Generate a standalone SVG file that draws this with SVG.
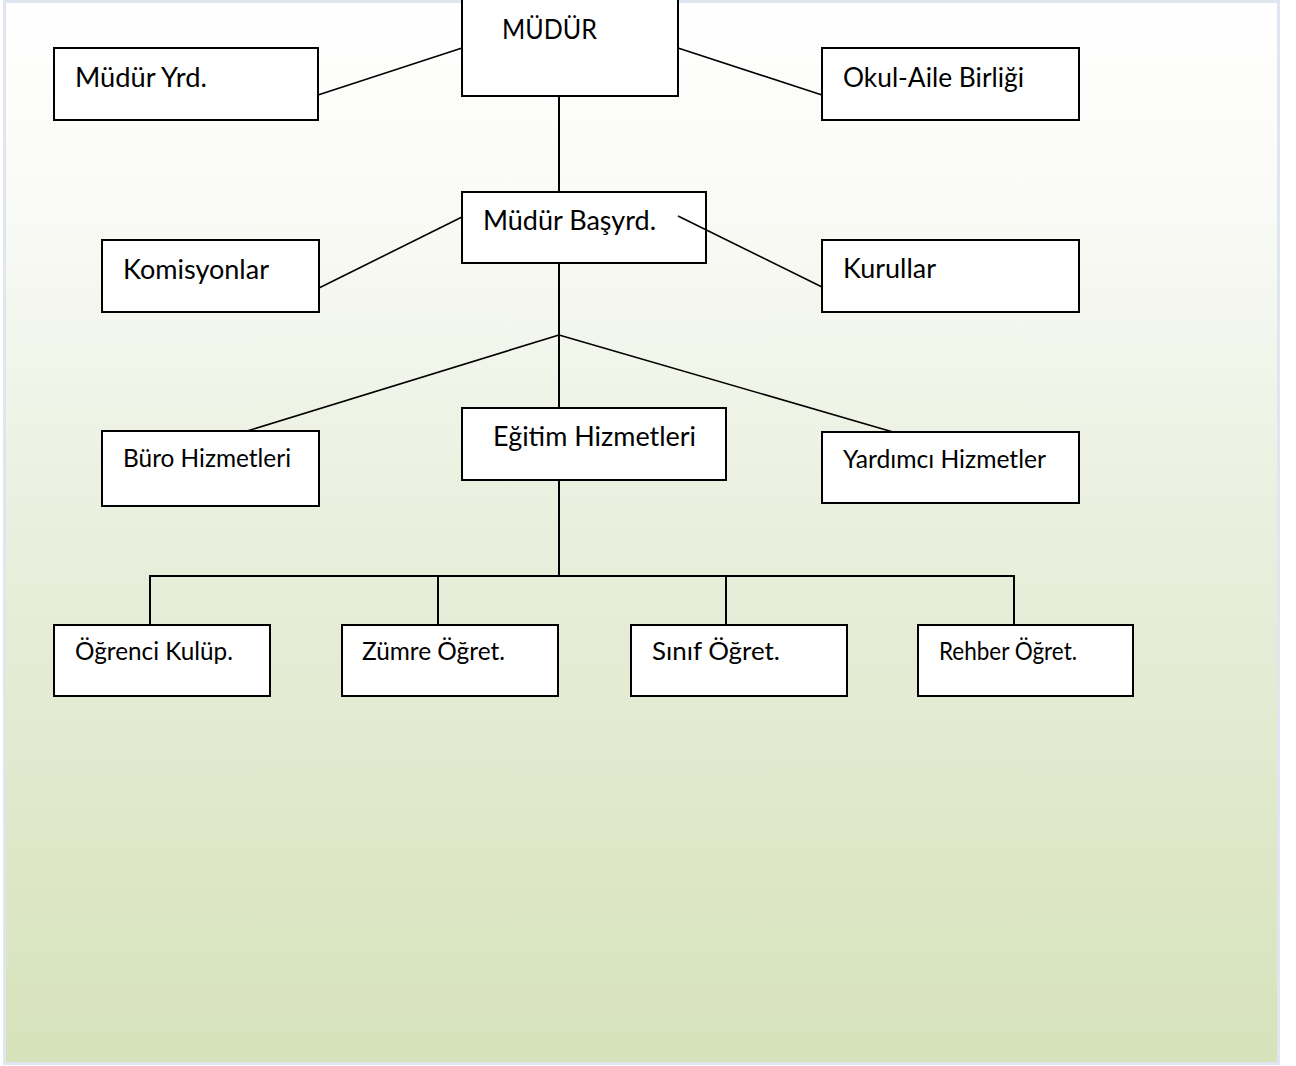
<svg xmlns="http://www.w3.org/2000/svg" width="1296" height="1066" viewBox="0 0 1296 1066">
<defs>
<linearGradient id="bg" x1="0" y1="0" x2="0" y2="1">
<stop offset="0" stop-color="#ffffff"/>
<stop offset="0.18" stop-color="#fafbf7"/>
<stop offset="0.5" stop-color="#e9efdd"/>
<stop offset="1" stop-color="#d6e2ba"/>
</linearGradient>
<style>
.box{fill:#ffffff;stroke:#000000;stroke-width:2}
.t{font-family:Lato,"Open Sans","Liberation Sans",sans-serif;font-size:27px;fill:#000000}
.s{font-size:25px}
.c{fill:none;stroke:#000000;stroke-width:2}
.d{fill:none;stroke:#000000;stroke-width:1.6}
</style>
</defs>
<rect x="0" y="0" width="1296" height="1066" fill="#ffffff"/>
<rect x="4.5" y="1.5" width="1274" height="1062" fill="url(#bg)" stroke="#dfe6ef" stroke-width="3"/>
<g id="mudur"><rect class="box" x="462" y="-4" width="216" height="100"/><text class="t" x="502" y="39" textLength="95" lengthAdjust="spacingAndGlyphs">MÜDÜR</text></g>
<g id="mudur-yrd"><rect class="box" x="54" y="48" width="264" height="72"/><text class="t" x="75" y="87" textLength="132" lengthAdjust="spacingAndGlyphs">Müdür Yrd.</text></g>
<g id="okul-aile"><rect class="box" x="822" y="48" width="257" height="72"/><text class="t" x="843" y="87" textLength="181" lengthAdjust="spacingAndGlyphs">Okul-Aile Birliği</text></g>
<g id="basyrd"><rect class="box" x="462" y="192" width="244" height="71"/><text class="t" x="483" y="230" textLength="173" lengthAdjust="spacingAndGlyphs">Müdür Başyrd.</text></g>
<g id="komisyonlar"><rect class="box" x="102" y="240" width="217" height="72"/><text class="t" x="123" y="279" textLength="146" lengthAdjust="spacingAndGlyphs">Komisyonlar</text></g>
<g id="kurullar"><rect class="box" x="822" y="240" width="257" height="72"/><text class="t" x="843" y="278" textLength="93" lengthAdjust="spacingAndGlyphs">Kurullar</text></g>
<g id="buro"><rect class="box" x="102" y="431" width="217" height="75"/><text class="t s" x="123" y="467" textLength="168" lengthAdjust="spacingAndGlyphs">Büro Hizmetleri</text></g>
<g id="egitim"><rect class="box" x="462" y="408" width="264" height="72"/><text class="t" x="493" y="446" textLength="203" lengthAdjust="spacingAndGlyphs">Eğitim Hizmetleri</text></g>
<g id="yardimci"><rect class="box" x="822" y="432" width="257" height="71"/><text class="t s" x="843" y="468" textLength="203" lengthAdjust="spacingAndGlyphs">Yardımcı Hizmetler</text></g>
<g id="ogrenci"><rect class="box" x="54" y="625" width="216" height="71"/><text class="t s" x="75" y="660" textLength="158" lengthAdjust="spacingAndGlyphs">Öğrenci Kulüp.</text></g>
<g id="zumre"><rect class="box" x="342" y="625" width="216" height="71"/><text class="t s" x="362" y="660" textLength="143" lengthAdjust="spacingAndGlyphs">Zümre Öğret.</text></g>
<g id="sinif"><rect class="box" x="631" y="625" width="216" height="71"/><text class="t s" x="652" y="660" textLength="128" lengthAdjust="spacingAndGlyphs">Sınıf Öğret.</text></g>
<g id="rehber"><rect class="box" x="918" y="625" width="215" height="71"/><text class="t s" x="939" y="660" textLength="138" lengthAdjust="spacingAndGlyphs">Rehber Öğret.</text></g>
<g id="connectors">
<line class="d" x1="318" y1="95" x2="462" y2="48"/>
<line class="d" x1="678" y1="48" x2="822" y2="95"/>
<line class="c" x1="559" y1="96" x2="559" y2="192"/>
<line class="d" x1="319" y1="288" x2="462" y2="217"/>
<line class="d" x1="678" y1="216" x2="822" y2="287"/>
<line class="c" x1="559" y1="263" x2="559" y2="408"/>
<line class="d" x1="559" y1="335" x2="247" y2="431"/>
<line class="d" x1="559" y1="335" x2="893" y2="432"/>
<line class="c" x1="559" y1="480" x2="559" y2="576"/>
<polyline class="c" points="150,625 150,576 1014,576 1014,625"/>
<line class="c" x1="438" y1="576" x2="438" y2="625"/>
<line class="c" x1="726" y1="576" x2="726" y2="625"/>
</g>
</svg>
